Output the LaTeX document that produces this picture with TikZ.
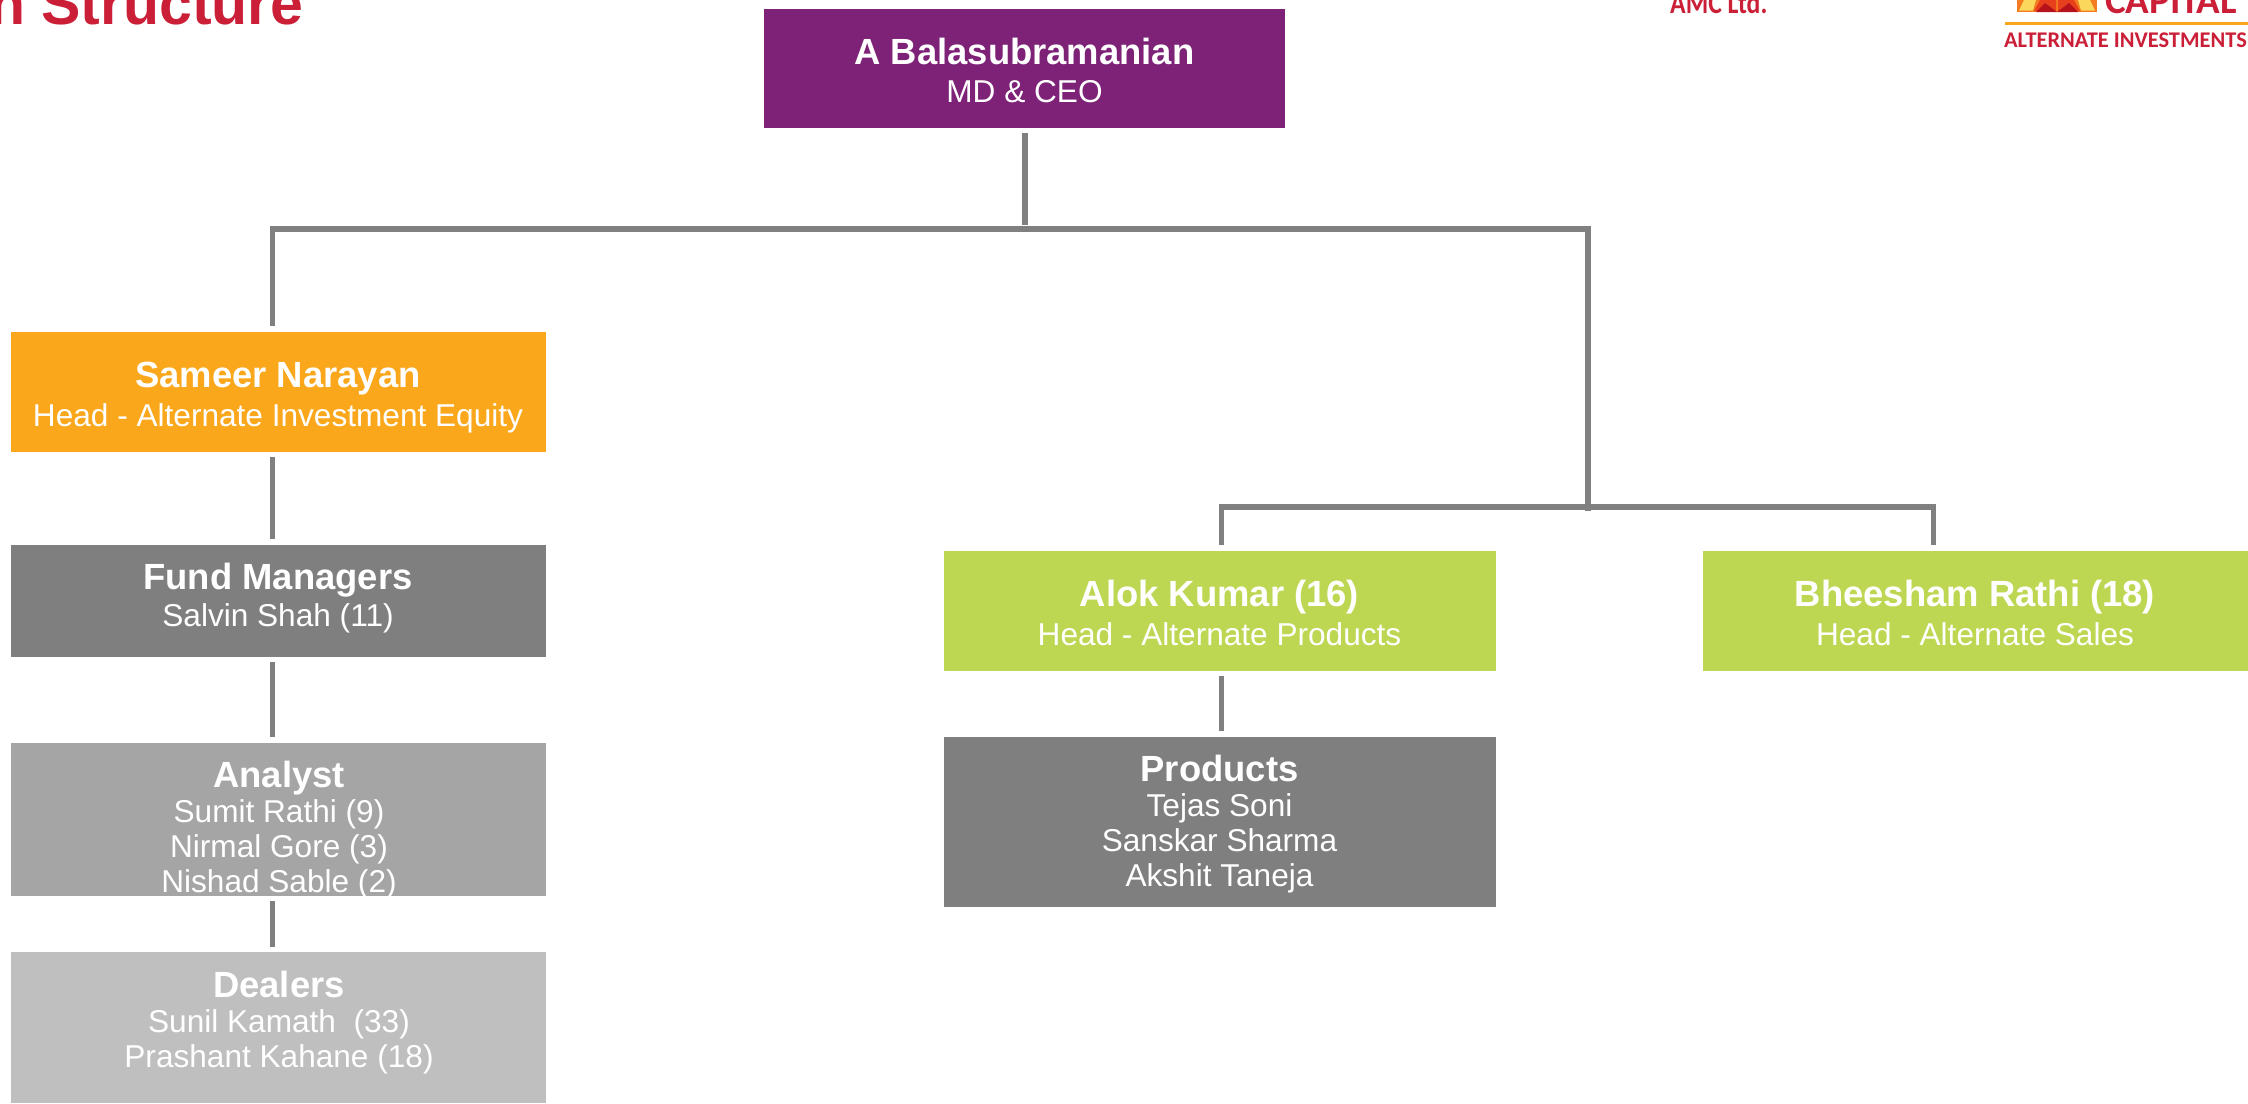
\documentclass[tikz,border=0pt]{standalone}
\usepackage{fontspec}
\setmainfont{Liberation Sans}
\newfontfamily\logofont{Carlito}
\definecolor{cPurple}{HTML}{7D2277}
\definecolor{cOrange}{HTML}{FBA71B}
\definecolor{cGreen}{HTML}{BDD753}
\definecolor{cDark}{HTML}{7F7F7F}
\definecolor{cMid}{HTML}{A5A5A5}
\definecolor{cLight}{HTML}{BFBFBF}
\definecolor{cLine}{HTML}{808080}
\definecolor{cRed}{HTML}{CB1F38}
\definecolor{cSunO}{HTML}{F47B20}
\definecolor{cSunY}{HTML}{FBD75B}
\definecolor{cSunR}{HTML}{E8401C}
\definecolor{cSunD}{HTML}{B5121B}
\tikzset{
  x=1pt,y=-1pt,
  link/.style={draw=cLine,line width=5.5pt,line cap=butt,line join=miter},
  lab/.style={anchor=base,inner sep=0pt,text=white,align=center},
}
\newcommand{\orgname}[1]{{\fontsize{36.4}{38}\selectfont\bfseries #1}}
\newcommand{\orgsub}[1]{{\fontsize{31.6}{36}\selectfont #1}}
\begin{document}
\begin{tikzpicture}
\useasboundingbox (0,0) rectangle (2248,1103);
\clip (0,0) rectangle (2248,1103);
\fill[white] (0,0) rectangle (2248,1103);

% title
\node[anchor=base east,inner sep=0pt,text=cRed,font=\fontsize{59}{60}\selectfont\bfseries] (title) at (304,24) {n Structure};

% logos
\node[anchor=base west,inner sep=0pt,text=cRed,font=\logofont\fontsize{31}{32}\selectfont\bfseries,xscale=.83,transform shape] (amc) at (1670,13) {AMC Ltd.};
\node[anchor=base west,inner sep=0pt,text=cRed,font=\logofont\fontsize{39}{40}\selectfont\bfseries] (cap) at (2105,13) {CAPITAL};
\fill[cSunO] (2017,0) rectangle (2097,12);
\fill[cSunY] (2019,10.5) -- (2024,0) -- (2036,0) -- (2033,10.5) -- cycle;
\fill[cSunY] (2081,10.5) -- (2078,0) -- (2090,0) -- (2095,10.5) -- cycle;
\fill[cSunR] (2034,11) -- (2040,0) -- (2056,0) -- (2056,11) -- cycle;
\fill[cSunR] (2058,11) -- (2058,0) -- (2074,0) -- (2080,11) -- cycle;
\fill[cSunD] (2036,12) -- (2045,3) -- (2057,12) -- (2069,3) -- (2078,12) -- cycle;
\fill[cOrange] (2005,21.5) rectangle (2248,24.5);
\node[anchor=base east,inner sep=0pt,text=cRed,font=\logofont\fontsize{22.4}{24}\selectfont\bfseries] (alt) at (2247,47) {ALTERNATE INVESTMENTS};

% boxes
\path[fill=cPurple] (764,8.5) rectangle (1285,128);
\path[fill=cOrange] (10.5,332) rectangle (546,452);
\path[fill=cDark] (10.5,545) rectangle (546,657);
\path[fill=cMid] (10.5,743) rectangle (546,896);
\path[fill=cLight] (10.5,952) rectangle (546,1103);
\path[fill=cGreen] (943.5,551) rectangle (1495.5,671);
\path[fill=cGreen] (1703,551) rectangle (2248,671);
\path[fill=cDark] (943.5,737) rectangle (1495.5,907);

% node labels
\node[lab] (ceo) at (1024.5,64) {\orgname{A Balasubramanian}};
\node[lab] (ceoS) at (1024.5,102) {\orgsub{MD \& CEO}};
\node[lab] (sam) at (278,387) {\orgname{Sameer Narayan}};
\node[lab] (samS) at (278,426) {\orgsub{Head - Alternate Investment Equity}};
\node[lab] (fm) at (278,589) {\orgname{Fund Managers}};
\node[lab] (fmS) at (278,626) {\orgsub{Salvin Shah (11)}};
\node[lab] (an) at (279,787) {\orgname{Analyst}};
\node[lab] (anA) at (279,822) {\orgsub{Sumit Rathi (9)}};
\node[lab] (anB) at (279,857) {\orgsub{Nirmal Gore (3)}};
\node[lab] (anC) at (279,892) {\orgsub{Nishad Sable (2)}};
\node[lab] (de) at (279,997) {\orgname{Dealers}};
\node[lab] (deA) at (279,1032) {\orgsub{Sunil Kamath\ \ (33)}};
\node[lab] (deB) at (279,1067) {\orgsub{Prashant Kahane (18)}};
\node[lab] (al) at (1219.5,606) {\orgname{Alok Kumar (16)}};
\node[lab] (alS) at (1219.5,645) {\orgsub{Head - Alternate Products}};
\node[lab] (bh) at (1975,606) {\orgname{Bheesham Rathi (18)}};
\node[lab] (bhS) at (1975,645) {\orgsub{Head - Alternate Sales}};
\node[lab] (pr) at (1219.5,781) {\orgname{Products}};
\node[lab] (prA) at (1219.5,816) {\orgsub{Tejas Soni}};
\node[lab] (prB) at (1219.5,851) {\orgsub{Sanskar Sharma}};
\node[lab] (prC) at (1219.5,886) {\orgsub{Akshit Taneja}};

% connector end points
\coordinate (ceoB) at (1025,133);
\coordinate (busJ) at (1025,225);
\coordinate (busL) at (272.5,229);
\coordinate (busR) at (1588,229);
\coordinate (busLd) at (272.5,326);
\coordinate (subJ) at (1588,511);
\coordinate (subL) at (1221.5,507);
\coordinate (subR) at (1933.5,507);
\coordinate (subLd) at (1221.5,545);
\coordinate (subRd) at (1933.5,545);

\draw[link] (ceoB) -- (busJ);
\draw[link] (busLd) -- (busL) -- (busR) -- (subJ);
\draw[link] (subLd) -- (subL) -- (subR) -- (subRd);
\draw[link] (272.5,457) -- (272.5,539);
\draw[link] (272.5,662) -- (272.5,737);
\draw[link] (272.5,901) -- (272.5,947);
\draw[link] (1221.5,676) -- (1221.5,731);
\end{tikzpicture}
\end{document}
